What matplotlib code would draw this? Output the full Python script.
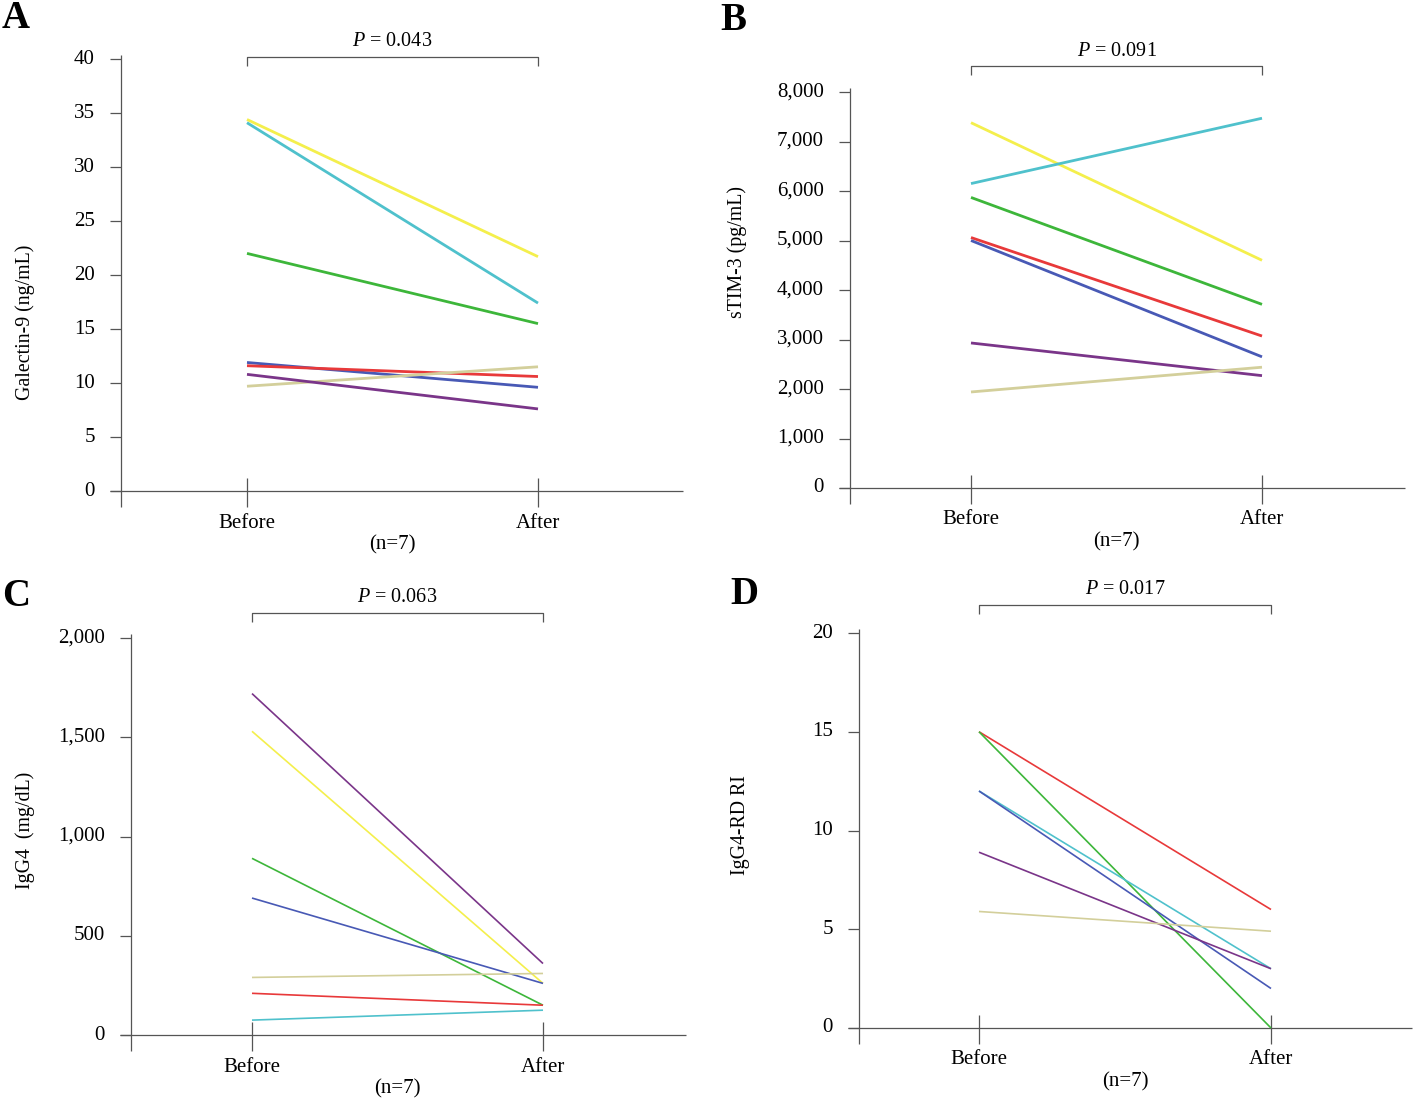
import matplotlib.pyplot as plt

plt.rcParams['font.family'] = ['Liberation Serif', 'DejaVu Serif']
plt.rcParams['mathtext.fontset'] = 'custom'
plt.rcParams['mathtext.it'] = 'Liberation Serif:italic'
plt.rcParams['mathtext.rm'] = 'Liberation Serif'

W, H = 1418, 1102
groups = ["Before", "After"]

# colours of the individual patients
YELLOW, CYAN, GREEN, BLUE, RED, KHAKI, PURPLE = (
    "#f4ef4c", "#4fc1cc", "#3db63a", "#4859b5", "#e8393a", "#d3cf9b", "#7a3589")

# A: Galectin-9
gal_colors = [YELLOW, CYAN, GREEN, BLUE, RED, KHAKI, PURPLE]
gal_before = [34.4, 34.1, 22.0, 11.9, 11.6, 9.7, 10.8]
gal_after = [21.7, 17.4, 15.5, 9.6, 10.6, 11.5, 7.6]
gal_ticks = [0, 5, 10, 15, 20, 25, 30, 35, 40]

# B: sTIM-3
tim_colors = [YELLOW, CYAN, GREEN, RED, BLUE, PURPLE, KHAKI]
tim_before = [7380, 6150, 5870, 5060, 5000, 2930, 1940]
tim_after = [4600, 7470, 3710, 3070, 2650, 2270, 2440]
tim_ticks = [0, 1000, 2000, 3000, 4000, 5000, 6000, 7000, 8000]

# C: IgG4
igg_colors = [PURPLE, YELLOW, GREEN, BLUE, KHAKI, RED, CYAN]
igg_before = [1720, 1530, 890, 690, 290, 210, 75]
igg_after = [360, 260, 150, 260, 310, 150, 125]
igg_ticks = [0, 500, 1000, 1500, 2000]

# D: IgG4-RD RI
ri_colors = [RED, GREEN, CYAN, BLUE, PURPLE, KHAKI]
ri_before = [15, 15, 12, 12, 8.9, 5.9]
ri_after = [6, 0, 3, 2, 3, 4.9]
ri_ticks = [0, 5, 10, 15, 20]

AX_COL = "#555555"


def draw_panel(fig, letter, ylabel, ticks, before, after, colors, lw, p_text, g):
    u = g["after"] - g["before"]
    top = ticks[-1]
    ppv = (g["y0"] - g["ytop"]) / top
    left_px = g["before"] - 0.6 * u
    top_px = g["ytop"] - 0.1 * top * ppv
    rect = [left_px / W, 1 - (top_px + 1.2 * top * ppv) / H, 2.2 * u / W, 1.2 * top * ppv / H]
    ax = fig.add_axes(rect)
    ax.set_xlim(-0.6, 1.6)
    ax.set_ylim(-0.1 * top, 1.1 * top)
    ax.axis("off")

    def dx(px):
        return (px - g["before"]) / u

    def dy(px):
        return (g["y0"] - px) / ppv

    kw = dict(color=AX_COL, lw=0.9, clip_on=False, solid_capstyle="butt")
    # y axis and ticks
    xa = dx(g["yaxis"])
    ax.plot([xa, xa], [dy(g["ytop"] - 4), dy(g["y0"] + 16)], **kw)
    for v in ticks:
        ax.plot([dx(g["yaxis"] - 11), xa], [v, v], **kw)
        ax.text(dx(g["yaxis"] - 26), v, f"{v:,}", ha="right", va="center", fontsize=15)
    # x axis and category ticks
    ax.plot([dx(g["yaxis"] - 11), dx(g["xend"])], [0, 0], **kw)
    for i in range(2):
        ax.plot([i, i], [dy(g["y0"] - 13), dy(g["y0"] + 16)], **kw)
        ax.text(i, dy(g["y0"] + 32), groups[i], ha="center", va="center", fontsize=15)
    ax.text(0.5, dy(g["y0"] + 54), "(n=7)", ha="center", va="center", fontsize=15)

    # paired lines
    for b, a, c in zip(before, after, colors):
        ax.plot([0, 1], [b, a], color=c, lw=lw, solid_capstyle="butt", clip_on=False)

    # significance bracket
    yb = dy(g["br"])
    ax.plot([0, 0, 1, 1], [dy(g["br"] + 9), yb, yb, dy(g["br"] + 9)], **kw)
    ax.text(0.5, dy(g["br"] - 15), p_text, ha="center", va="center", fontsize=14.5)

    fig.text(g["ylab_x"] / W, 1 - g["ylab_y"] / H, ylabel, rotation=90,
             ha="center", va="center", fontsize=14.3)
    fig.text(g["let_x"] / W, 1 - g["let_y"] / H, letter, fontsize=28,
             fontweight="bold", ha="left", va="center")


fig = plt.figure(figsize=(W / 100, H / 100), dpi=100)

draw_panel(fig, "A", "Galectin-9 (ng/mL)", gal_ticks, gal_before, gal_after, gal_colors, 2.0,
           r"$\mathit{P}$ = 0.043",
           dict(before=247, after=538, y0=491, ytop=59, yaxis=121, xend=683, br=57,
                ylab_x=25, ylab_y=322, let_x=2, let_y=18))
draw_panel(fig, "B", "sTIM-3 (pg/mL)", tim_ticks, tim_before, tim_after, tim_colors, 2.0,
           r"$\mathit{P}$ = 0.091",
           dict(before=971, after=1262, y0=488, ytop=92, yaxis=850, xend=1405, br=66,
                ylab_x=737, ylab_y=252, let_x=720, let_y=20))
draw_panel(fig, "C", "IgG4  (mg/dL)", igg_ticks, igg_before, igg_after, igg_colors, 1.2,
           r"$\mathit{P}$ = 0.063",
           dict(before=252, after=543, y0=1035, ytop=638, yaxis=131, xend=686, br=613,
                ylab_x=25, ylab_y=830, let_x=2, let_y=596))
draw_panel(fig, "D", "IgG4-RD RI", ri_ticks, ri_before, ri_after, ri_colors, 1.2,
           r"$\mathit{P}$ = 0.017",
           dict(before=979, after=1271, y0=1028, ytop=633, yaxis=859, xend=1412, br=605,
                ylab_x=741, ylab_y=825, let_x=730, let_y=594))

fig.savefig("out.png", dpi=100, facecolor="white")
